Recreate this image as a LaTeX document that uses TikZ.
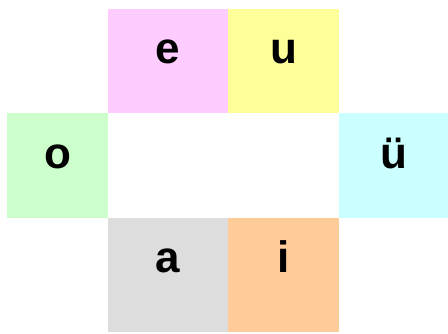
\documentclass[tikz,border=0pt]{standalone}
\usepackage{fontspec}
\setmainfont{Liberation Sans}
\usetikzlibrary{positioning}
\definecolor{vpink}{HTML}{FFCCFF}
\definecolor{vyellow}{HTML}{FFFF99}
\definecolor{vgreen}{HTML}{CCFFCC}
\definecolor{vcyan}{HTML}{CCFFFF}
\definecolor{vgrey}{HTML}{DDDDDD}
\definecolor{vorange}{HTML}{FFCC99}
\tikzset{
  vowel cell/.style={
    rectangle, draw=none, anchor=north west, inner sep=0pt
  },
  vowel letter/.style={
    anchor=base, inner sep=0pt,
    font=\fontsize{44}{50}\selectfont\bfseries
  }
}

\begin{document}
\begin{tikzpicture}[x=1pt, y=1pt]
  \useasboundingbox (0,0) rectangle (448,-333);
  % cells
  \node (ecell) [vowel cell, fill=vpink, minimum width=120pt, minimum height=104pt] at (108,-9) {};
  \node (ucell) [vowel cell, fill=vyellow, minimum width=111pt, minimum height=104pt] at (228,-9) {};
  \node (ocell) [vowel cell, fill=vgreen, minimum width=101pt, minimum height=105pt] at (7,-113) {};
  \node (uecell) [vowel cell, fill=vcyan, minimum width=109pt, minimum height=105pt] at (339,-113) {};
  \node (acell) [vowel cell, fill=vgrey, minimum width=120pt, minimum height=114pt] at (108,-218) {};
  \node (icell) [vowel cell, fill=vorange, minimum width=111pt, minimum height=114pt] at (228,-218) {};
  % letters
  \node (e) [vowel letter] at ([yshift=-54pt]ecell.north) {e};
  \node (u) [vowel letter] at ([yshift=-54pt]ucell.north) {u};
  \node (o) [vowel letter] at ([yshift=-55pt]ocell.north) {o};
  \node (ue) [vowel letter] at ([yshift=-55pt]uecell.north) {ü};
  \node (a) [vowel letter] at ([yshift=-54pt]acell.north) {a};
  \node (i) [vowel letter] at ([yshift=-54pt]icell.north) {i};
\end{tikzpicture}
\end{document}
